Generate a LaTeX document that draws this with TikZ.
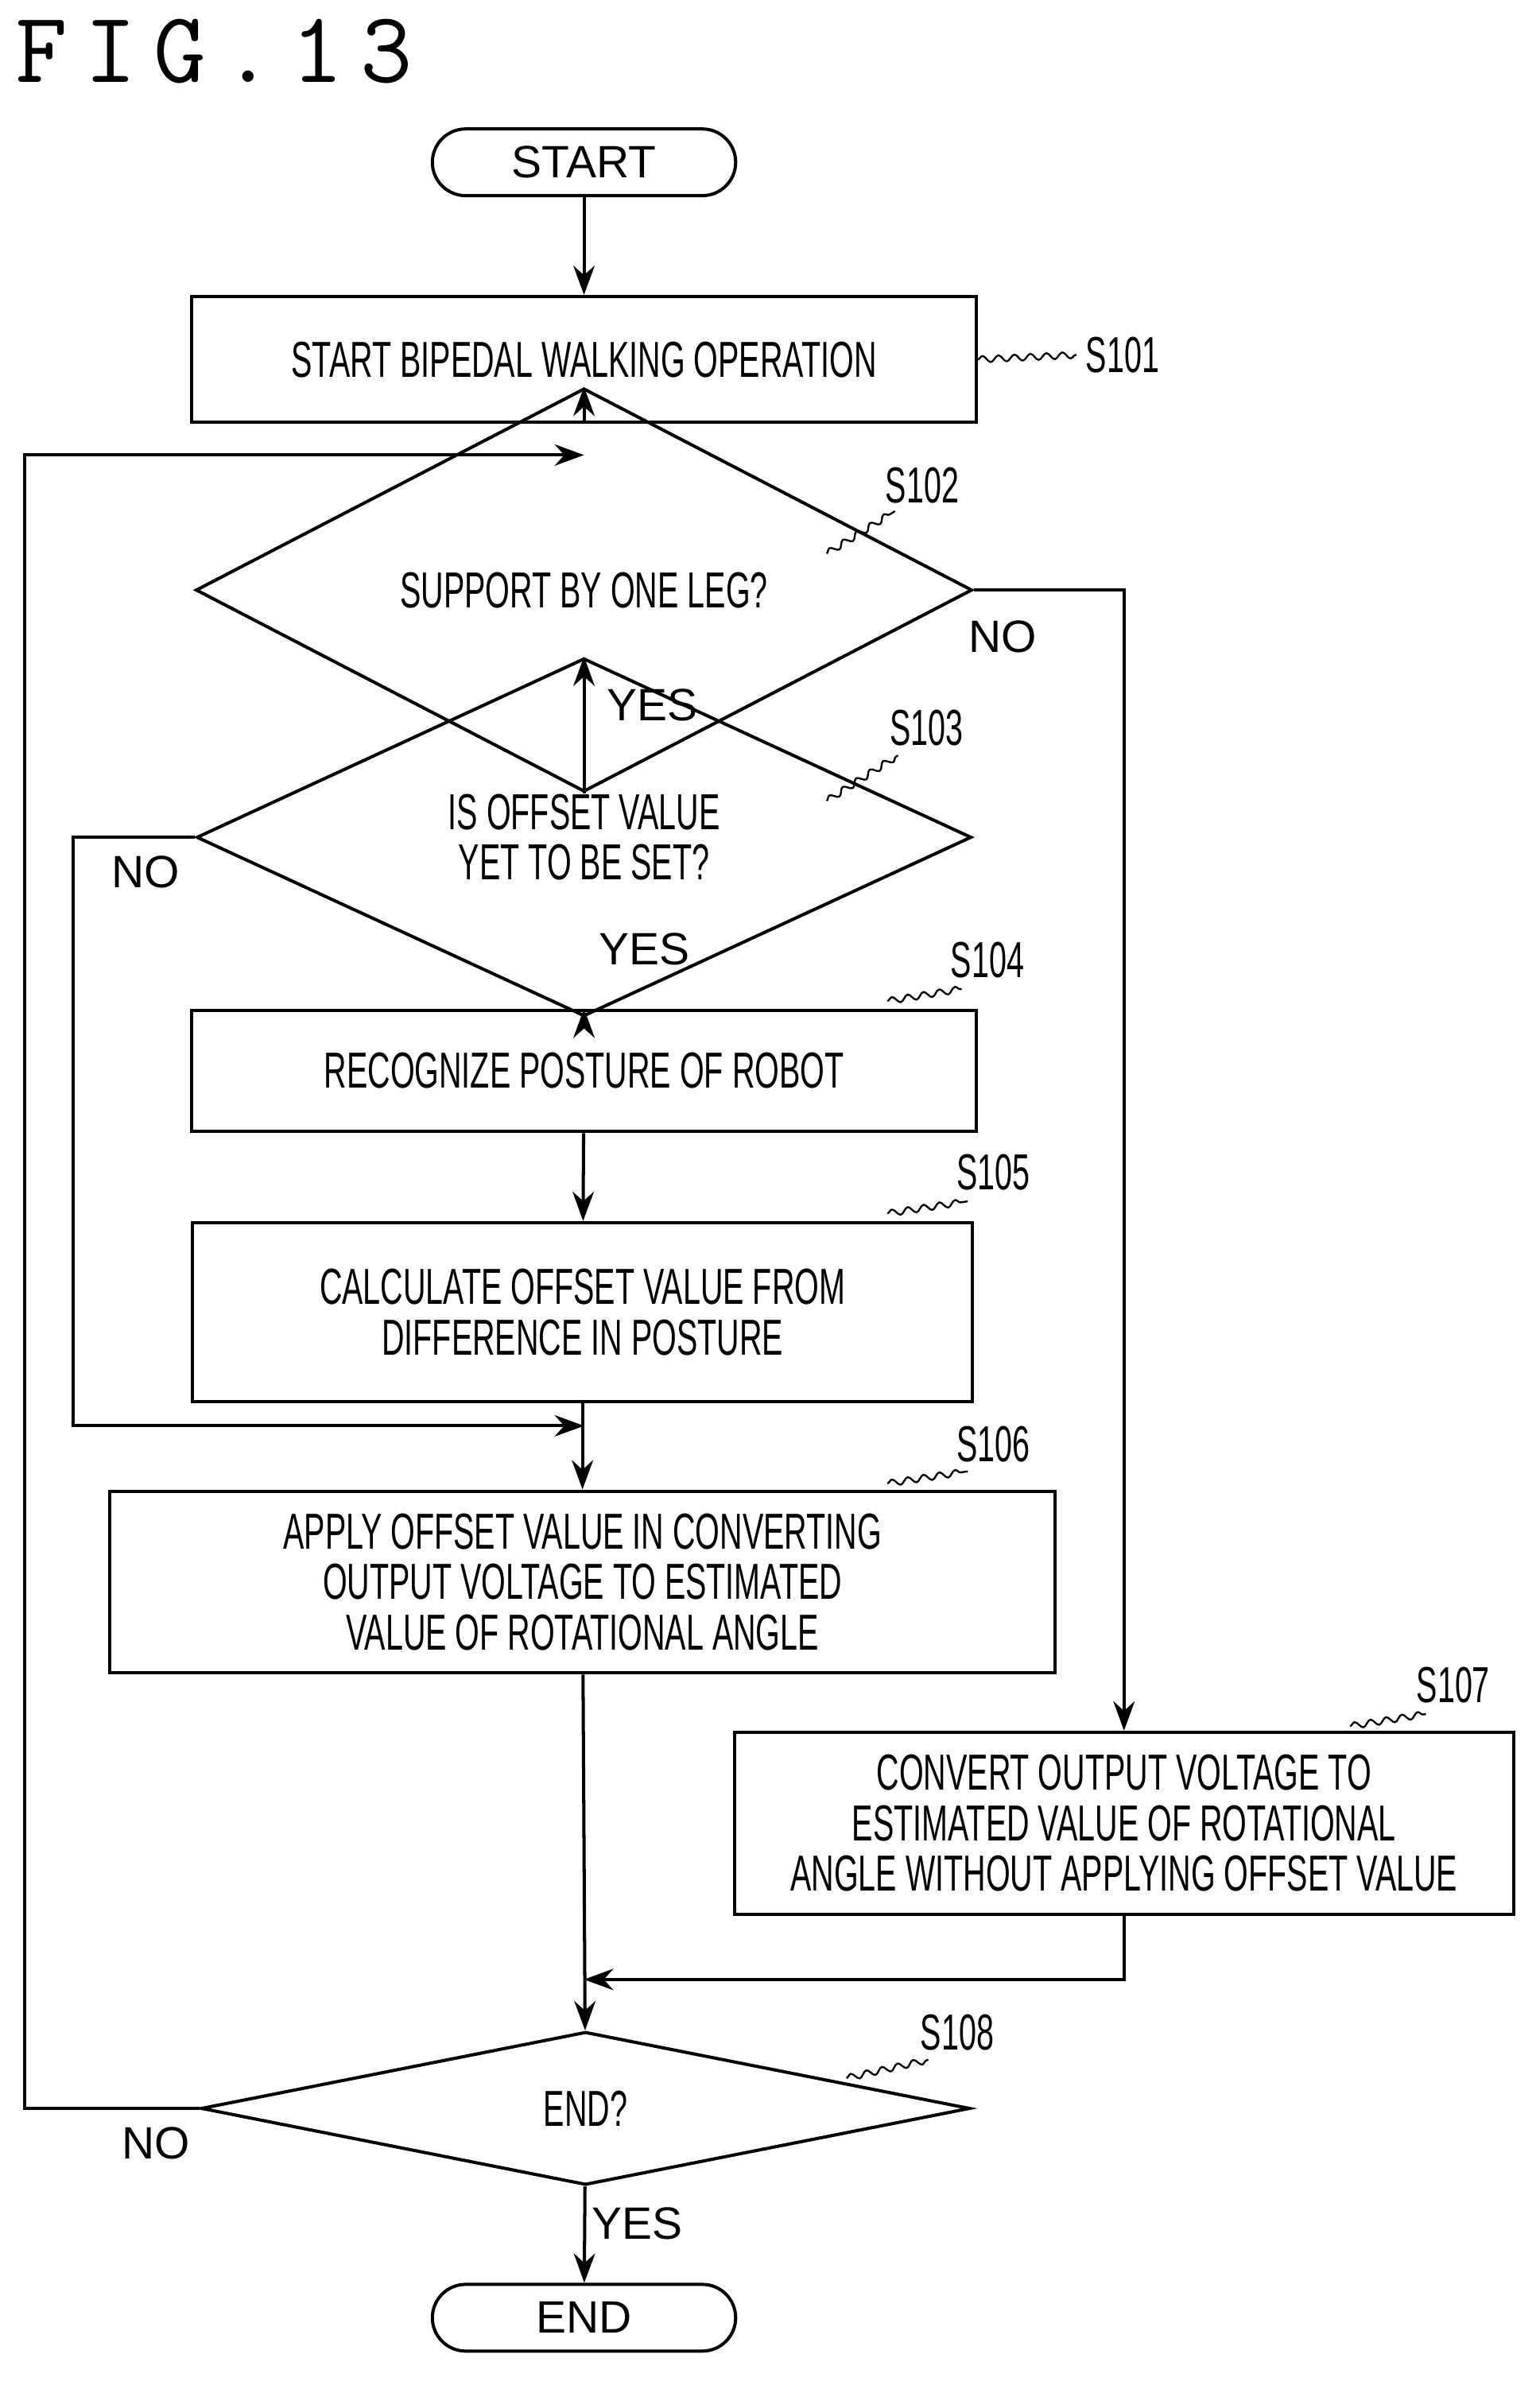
\documentclass[tikz,border=0pt]{standalone}
\usepackage{fontspec}
\setmainfont{Liberation Sans}
\newfontfamily\narrowfont[FakeStretch=0.62]{Liberation Sans}
\usetikzlibrary{shapes.geometric,arrows.meta,decorations.pathmorphing}
\tikzset{
  box/.style={draw, line width=1.2pt, inner sep=0pt, align=center, font=\narrowfont\fontsize{19}{23}\selectfont},
  decision/.style={box, diamond},
  term/.style={box, rounded corners=0.44cm, font=\fontsize{17}{20}\selectfont},
  flow/.style={line width=1.2pt, -{Stealth[length=11pt,width=8pt]}},
  line/.style={line width=1.2pt},
  tag/.style={font=\narrowfont\fontsize{19}{23}\selectfont},
  lbl/.style={font=\fontsize{17}{20}\selectfont},
  wave/.style={line width=0.7pt, decorate, decoration={snake, amplitude=1.2pt, segment length=6pt}}
}
\begin{document}
\begin{tikzpicture}[x=0.02cm, y=-0.02cm]
  \useasboundingbox (0,0) rectangle (1015,1575);
  \node[anchor=west, font=\ttfamily\fontsize{38}{40}\selectfont] (fig) at (4,34) {F\,I\,G\,.\,1\,3};

  % boxes and decisions
  \node[term, minimum width=4cm, minimum height=0.88cm] (start) at (385,107) {START};
  \node[box, minimum width=10.34cm, minimum height=1.66cm] (s101) at (385,237) {START BIPEDAL WALKING OPERATION};
  \node[decision, minimum width=10.24cm, minimum height=2.0cm] (s102) at (385,389) {SUPPORT BY ONE LEG?};
  \node[decision, minimum width=10.22cm, minimum height=2.02cm] (s103) at (385,552) {IS OFFSET VALUE\\[-4pt]YET TO BE SET?};
  \node[box, minimum width=10.34cm, minimum height=1.6cm] (s104) at (385,706) {RECOGNIZE POSTURE OF ROBOT};
  \node[box, minimum width=10.28cm, minimum height=2.36cm] (s105) at (384,865) {CALCULATE OFFSET VALUE FROM\\[-4pt]DIFFERENCE IN POSTURE};
  \node[box, minimum width=12.46cm, minimum height=2.4cm] (s106) at (384,1043) {APPLY OFFSET VALUE IN CONVERTING\\[-4pt]OUTPUT VOLTAGE TO ESTIMATED\\[-4pt]VALUE OF ROTATIONAL ANGLE};
  \node[box, minimum width=10.28cm, minimum height=2.4cm] (s107) at (741,1202) {CONVERT OUTPUT VOLTAGE TO\\[-4pt]ESTIMATED VALUE OF ROTATIONAL\\[-4pt]ANGLE WITHOUT APPLYING OFFSET VALUE};
  \node[decision, minimum width=10.14cm, minimum height=2.02cm] (s108) at (386,1390) {END?};
  \node[term, minimum width=4cm, minimum height=0.88cm] (end) at (385,1528) {END};

  % joints
  \coordinate (top) at (385,300);
  \coordinate (mid) at (385,940);
  \coordinate (low) at (385,1305);

  % connectors
  \draw[flow] (start) -- (s101);
  \draw[flow] (s101) -- (s102);
  \draw[flow] (s102) -- (s103);
  \draw[flow] (s103) -- (s104);
  \draw[flow] (s104) -- (s105);
  \draw[flow] (s105.south -| s106.north) -- (s106);
  \draw[flow] (s106) -- (s108);
  \draw[flow] (s108) -- (end);
  \draw[flow] (s102.east) -| (s107.north);
  \draw[flow] (s103.west) -| (48,940) -- (mid);
  \draw[flow] (s107.south) |- (low);
  \draw[flow] (s108.west) -| (16,300) -- (top);

  % labels
  \node[lbl] (y102) at (430,465) {YES};
  \node[lbl] (n102) at (661,420) {NO};
  \node[lbl] (y103) at (425,626) {YES};
  \node[lbl] (n103) at (96,575) {NO};
  \node[lbl] (y108) at (420,1466) {YES};
  \node[lbl] (n108) at (103,1413) {NO};

  % step tags
  \node[tag] (t101) at (740,234) {S101};
  \node[tag] (t102) at (608,320) {S102};
  \node[tag] (t103) at (611,480) {S103};
  \node[tag] (t104) at (651,633) {S104};
  \node[tag] (t105) at (655,773) {S105};
  \node[tag] (t106) at (655,952) {S106};
  \node[tag] (t107) at (958,1111) {S107};
  \node[tag] (t108) at (631,1340) {S108};
  \draw[wave] (s101.east) -- (t101.west);
  \draw[wave] (545,365) -- (590,337);
  \draw[wave] (545,528) -- (592,498);
  \draw[wave] (585,660) -- (634,652);
  \draw[wave] (585,800) -- (638,792);
  \draw[wave] (585,978) -- (638,970);
  \draw[wave] (890,1138) -- (940,1130);
  \draw[wave] (558,1370) -- (612,1358);
\end{tikzpicture}
\end{document}
